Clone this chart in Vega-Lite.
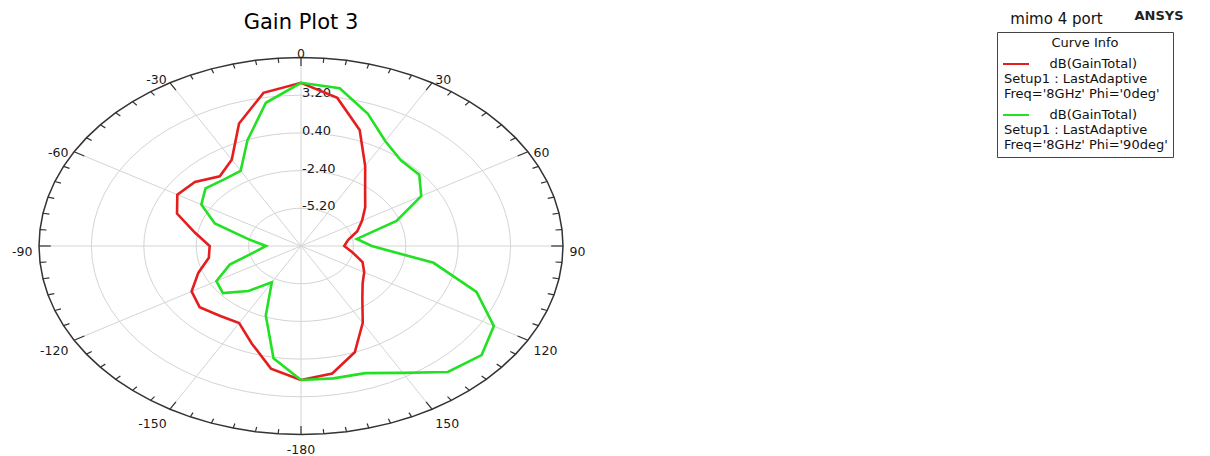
{
  "$schema": "https://vega.github.io/schema/vega-lite/v6.json",
  "width": 524,
  "height": 377,
  "autosize": "none",
  "padding": {"left": 39, "top": 57.5, "right": 647, "bottom": 21.5},
  "background": "white",
  "title": {
    "text": "Gain Plot 3",
    "anchor": "middle",
    "font": "DejaVu Sans",
    "fontSize": 21,
    "fontWeight": "normal",
    "color": "#000000",
    "baseline": "alphabetic",
    "offset": -40
  },
  "config": {"view": {"stroke": null}, "font": "DejaVu Sans"},
  "datasets": {
    "gain": [
      {"phi": "0deg", "theta": -180, "dB": 1.95},
      {"phi": "0deg", "theta": -170, "dB": 1.25},
      {"phi": "0deg", "theta": -160, "dB": -0.3},
      {"phi": "0deg", "theta": -150, "dB": -1.39},
      {"phi": "0deg", "theta": -140, "dB": -1.24},
      {"phi": "0deg", "theta": -130, "dB": -0.93},
      {"phi": "0deg", "theta": -120, "dB": -1.25},
      {"phi": "0deg", "theta": -110, "dB": -2.16},
      {"phi": "0deg", "theta": -100, "dB": -3.0},
      {"phi": "0deg", "theta": -90, "dB": -3.12},
      {"phi": "0deg", "theta": -80, "dB": -2.24},
      {"phi": "0deg", "theta": -70, "dB": -0.95},
      {"phi": "0deg", "theta": -60, "dB": -0.37},
      {"phi": "0deg", "theta": -50, "dB": -0.6},
      {"phi": "0deg", "theta": -40, "dB": -1.25},
      {"phi": "0deg", "theta": -30, "dB": -0.6},
      {"phi": "0deg", "theta": -20, "dB": 1.68},
      {"phi": "0deg", "theta": -10, "dB": 3.55},
      {"phi": "0deg", "theta": 0, "dB": 4.12},
      {"phi": "0deg", "theta": 10, "dB": 3.17},
      {"phi": "0deg", "theta": 20, "dB": 1.17},
      {"phi": "0deg", "theta": 30, "dB": -1.14},
      {"phi": "0deg", "theta": 40, "dB": -2.67},
      {"phi": "0deg", "theta": 50, "dB": -3.52},
      {"phi": "0deg", "theta": 60, "dB": -4.23},
      {"phi": "0deg", "theta": 70, "dB": -4.8},
      {"phi": "0deg", "theta": 80, "dB": -5.45},
      {"phi": "0deg", "theta": 90, "dB": -5.69},
      {"phi": "0deg", "theta": 100, "dB": -5.2},
      {"phi": "0deg", "theta": 110, "dB": -4.5},
      {"phi": "0deg", "theta": 120, "dB": -4.1},
      {"phi": "0deg", "theta": 130, "dB": -3.7},
      {"phi": "0deg", "theta": 140, "dB": -2.9},
      {"phi": "0deg", "theta": 150, "dB": -1.4},
      {"phi": "0deg", "theta": 160, "dB": 0.4},
      {"phi": "0deg", "theta": 170, "dB": 1.62},
      {"phi": "0deg", "theta": 180, "dB": 1.95},
      {"phi": "90deg", "theta": -180, "dB": 1.95},
      {"phi": "90deg", "theta": -170, "dB": 0.46},
      {"phi": "90deg", "theta": -160, "dB": -2.5},
      {"phi": "90deg", "theta": -150, "dB": -4.88},
      {"phi": "90deg", "theta": -140, "dB": -3.64},
      {"phi": "90deg", "theta": -130, "dB": -2.55},
      {"phi": "90deg", "theta": -120, "dB": -2.78},
      {"phi": "90deg", "theta": -110, "dB": -3.95},
      {"phi": "90deg", "theta": -100, "dB": -5.5},
      {"phi": "90deg", "theta": -90, "dB": -6.13},
      {"phi": "90deg", "theta": -80, "dB": -5.17},
      {"phi": "90deg", "theta": -70, "dB": -3.1},
      {"phi": "90deg", "theta": -60, "dB": -1.85},
      {"phi": "90deg", "theta": -50, "dB": -1.34},
      {"phi": "90deg", "theta": -40, "dB": -1.57},
      {"phi": "90deg", "theta": -30, "dB": -1.55},
      {"phi": "90deg", "theta": -20, "dB": 0.36},
      {"phi": "90deg", "theta": -10, "dB": 2.8},
      {"phi": "90deg", "theta": 0, "dB": 4.12},
      {"phi": "90deg", "theta": 10, "dB": 3.9},
      {"phi": "90deg", "theta": 20, "dB": 2.45},
      {"phi": "90deg", "theta": 30, "dB": 1.0},
      {"phi": "90deg", "theta": 40, "dB": 0.3},
      {"phi": "90deg", "theta": 50, "dB": 0.25},
      {"phi": "90deg", "theta": 60, "dB": -0.58},
      {"phi": "90deg", "theta": 70, "dB": -2.57},
      {"phi": "90deg", "theta": 80, "dB": -4.97},
      {"phi": "90deg", "theta": 90, "dB": -4.22},
      {"phi": "90deg", "theta": 100, "dB": -0.81},
      {"phi": "90deg", "theta": 110, "dB": 1.98},
      {"phi": "90deg", "theta": 120, "dB": 3.9},
      {"phi": "90deg", "theta": 130, "dB": 4.6},
      {"phi": "90deg", "theta": 140, "dB": 4.21},
      {"phi": "90deg", "theta": 150, "dB": 2.88},
      {"phi": "90deg", "theta": 160, "dB": 2.05},
      {"phi": "90deg", "theta": 170, "dB": 1.98},
      {"phi": "90deg", "theta": 180, "dB": 1.95}
    ],
    "grid": [
      {
        "levels": [-5.2, -2.4, 0.4, 3.2, 6.0],
        "angles": [-180, -175, -170, -165, -160, -155, -150, -145, -140, -135, -130, -125, -120, -115, -110, -105, -100, -95, -90, -85, -80, -75, -70, -65, -60, -55, -50, -45, -40, -35, -30, -25, -20, -15, -10, -5, 0, 5, 10, 15, 20, 25, 30, 35, 40, 45, 50, 55, 60, 65, 70, 75, 80, 85, 90, 95, 100, 105, 110, 115, 120, 125, 130, 135, 140, 145, 150, 155, 160, 165, 170, 175, 180]
      }
    ],
    "ticks": [
      {
        "a": [-180, -175, -170, -165, -160, -155, -150, -145, -140, -135, -130, -125, -120, -115, -110, -105, -100, -95, -90, -85, -80, -75, -70, -65, -60, -55, -50, -45, -40, -35, -30, -25, -20, -15, -10, -5, 0, 5, 10, 15, 20, 25, 30, 35, 40, 45, 50, 55, 60, 65, 70, 75, 80, 85, 90, 95, 100, 105, 110, 115, 120, 125, 130, 135, 140, 145, 150, 155, 160, 165, 170, 175]
      }
    ]
  },
  "layer": [
    {
      "data": {"name": "grid"},
      "transform": [
        {"flatten": ["levels"], "as": ["level"]},
        {"flatten": ["angles"], "as": ["angle"]},
        {"filter": "datum.level < 6"},
        {"calculate": "(datum.level + 8) / 14", "as": "rn"},
        {"calculate": "datum.rn * sin(datum.angle * PI / 180)", "as": "gx"},
        {"calculate": "datum.rn * cos(datum.angle * PI / 180)", "as": "gy"}
      ],
      "mark": {"type": "line", "color": "#d4d4d4", "strokeWidth": 1},
      "encoding": {
        "x": {"field": "gx", "type": "quantitative", "scale": {"domain": [-1, 1], "nice": false, "zero": false}, "axis": null},
        "y": {"field": "gy", "type": "quantitative", "scale": {"domain": [-1, 1], "nice": false, "zero": false}, "axis": null},
        "detail": {"field": "level", "type": "nominal"},
        "order": {"field": "angle", "type": "quantitative"}
      }
    },
    {
      "data": {"name": "ticks"},
      "transform": [
        {"flatten": ["a"]},
        {"filter": "datum.a % 30 == 0"},
        {"calculate": "0", "as": "o"},
        {"calculate": "sin(datum.a * PI / 180)", "as": "sx"},
        {"calculate": "cos(datum.a * PI / 180)", "as": "sy"}
      ],
      "mark": {"type": "rule", "color": "#d4d4d4", "strokeWidth": 1},
      "encoding": {
        "x": {"field": "o", "type": "quantitative"},
        "y": {"field": "o", "type": "quantitative"},
        "x2": {"field": "sx"},
        "y2": {"field": "sy"}
      }
    },
    {
      "data": {"name": "grid"},
      "transform": [
        {"flatten": ["levels"], "as": ["level"]},
        {"flatten": ["angles"], "as": ["angle"]},
        {"filter": "datum.level == 6"},
        {"calculate": "(datum.level + 8) / 14", "as": "rn"},
        {"calculate": "datum.rn * sin(datum.angle * PI / 180)", "as": "gx"},
        {"calculate": "datum.rn * cos(datum.angle * PI / 180)", "as": "gy"}
      ],
      "mark": {"type": "line", "color": "#333333", "strokeWidth": 1.5},
      "encoding": {
        "x": {"field": "gx", "type": "quantitative"},
        "y": {"field": "gy", "type": "quantitative"},
        "order": {"field": "angle", "type": "quantitative"}
      }
    },
    {
      "data": {"name": "ticks"},
      "transform": [
        {"flatten": ["a"]},
        {"calculate": "sin(datum.a * PI / 180)", "as": "sx"},
        {"calculate": "cos(datum.a * PI / 180)", "as": "sy"},
        {"calculate": "datum.a % 30 == 0 ? 0.955 : 0.975", "as": "k"},
        {"calculate": "datum.k * datum.sx", "as": "ix"},
        {"calculate": "datum.k * datum.sy", "as": "iy"}
      ],
      "mark": {"type": "rule", "color": "#333333", "strokeWidth": 1.2},
      "encoding": {
        "x": {"field": "sx", "type": "quantitative"},
        "y": {"field": "sy", "type": "quantitative"},
        "x2": {"field": "ix"},
        "y2": {"field": "iy"}
      }
    },
    {
      "data": {"name": "grid"},
      "transform": [
        {"flatten": ["levels"], "as": ["level"]},
        {"filter": "datum.level < 6"},
        {"calculate": "0", "as": "o"},
        {"calculate": "(datum.level + 8) / 14", "as": "rn"},
        {"calculate": "replace(format(datum.level, '.2f'), '\u2212', '-')", "as": "lab"}
      ],
      "mark": {"type": "text", "align": "left", "baseline": "middle", "dx": 1, "dy": -2, "font": "DejaVu Sans", "fontSize": 13, "color": "#1a1a1a"},
      "encoding": {
        "x": {"field": "o", "type": "quantitative"},
        "y": {"field": "rn", "type": "quantitative"},
        "text": {"field": "lab", "type": "nominal"}
      }
    },
    {
      "data": {"name": "ticks"},
      "transform": [
        {"flatten": ["a"]},
        {"filter": "datum.a % 30 == 0 && datum.a > 0"},
        {"calculate": "1.025 * sin(datum.a * PI / 180)", "as": "lx"},
        {"calculate": "1.052 * cos(datum.a * PI / 180)", "as": "ly"},
        {"calculate": "'' + datum.a", "as": "lab"}
      ],
      "mark": {"type": "text", "align": "left", "baseline": "top", "font": "DejaVu Sans", "fontSize": 12.5, "color": "#1a1a1a"},
      "encoding": {
        "x": {"field": "lx", "type": "quantitative"},
        "y": {"field": "ly", "type": "quantitative"},
        "text": {"field": "lab", "type": "nominal"}
      }
    },
    {
      "data": {"name": "ticks"},
      "transform": [
        {"flatten": ["a"]},
        {"filter": "datum.a % 30 == 0 && datum.a < 0 && datum.a > -180"},
        {"calculate": "1.025 * sin(datum.a * PI / 180)", "as": "lx"},
        {"calculate": "1.052 * cos(datum.a * PI / 180)", "as": "ly"},
        {"calculate": "'' + datum.a", "as": "lab"}
      ],
      "mark": {"type": "text", "align": "right", "baseline": "top", "font": "DejaVu Sans", "fontSize": 12.5, "color": "#1a1a1a"},
      "encoding": {
        "x": {"field": "lx", "type": "quantitative"},
        "y": {"field": "ly", "type": "quantitative"},
        "text": {"field": "lab", "type": "nominal"}
      }
    },
    {
      "data": {"name": "ticks"},
      "transform": [
        {"flatten": ["a"]},
        {"filter": "datum.a == 0 || datum.a == -180"},
        {"calculate": "1.025 * sin(datum.a * PI / 180)", "as": "lx"},
        {"calculate": "1.052 * cos(datum.a * PI / 180)", "as": "ly"},
        {"calculate": "'' + datum.a", "as": "lab"}
      ],
      "mark": {"type": "text", "align": "center", "baseline": "top", "font": "DejaVu Sans", "fontSize": 12.5, "color": "#1a1a1a"},
      "encoding": {
        "x": {"field": "lx", "type": "quantitative"},
        "y": {"field": "ly", "type": "quantitative"},
        "text": {"field": "lab", "type": "nominal"}
      }
    },
    {
      "data": {"name": "gain"},
      "transform": [
        {"calculate": "(datum.dB + 8) / 14", "as": "rn"},
        {"calculate": "datum.rn * sin(datum.theta * PI / 180)", "as": "cx"},
        {"calculate": "datum.rn * cos(datum.theta * PI / 180)", "as": "cy"}
      ],
      "mark": {"type": "line", "strokeWidth": 2.6},
      "encoding": {
        "x": {"field": "cx", "type": "quantitative"},
        "y": {"field": "cy", "type": "quantitative"},
        "order": {"field": "theta", "type": "quantitative"},
        "color": {
          "field": "phi",
          "type": "nominal",
          "scale": {"domain": ["0deg", "90deg"], "range": ["#e41e1e", "#22e022"]},
          "legend": {
            "orient": "none",
            "legendX": 958,
            "legendY": -25.5,
            "title": "Curve Info",
            "titleAnchor": "middle",
            "titleFont": "DejaVu Sans",
            "titleFontSize": 13,
            "titleFontWeight": "normal",
            "titleColor": "#111111",
            "titlePadding": 0,
            "fillColor": "white",
            "strokeColor": "#444444",
            "padding": 5,
            "symbolType": "stroke",
            "symbolSize": 676,
            "symbolStrokeWidth": 2,
            "labelFont": "DejaVu Sans",
            "labelFontSize": 13,
            "labelColor": "#111111",
            "labelOffset": -26,
            "labelLimit": 400,
            "rowPadding": 0,
            "labelExpr": "['\u200b\u00a0\u00a0\u00a0\u00a0\u00a0\u00a0\u00a0\u00a0\u00a0\u00a0\u00a0dB(GainTotal)', 'Setup1 : LastAdaptive', \"Freq='8GHz' Phi='\" + datum.label + \"'\"]"
          }
        }
      }
    },
    {
      "data": {"values": [{"note": "mimo 4 port", "nx": 2.8836, "ny": 1.2042}]},
      "mark": {"type": "text", "align": "center", "baseline": "middle", "font": "DejaVu Sans", "fontSize": 15, "color": "#111111"},
      "encoding": {
        "x": {"field": "nx", "type": "quantitative"},
        "y": {"field": "ny", "type": "quantitative"},
        "text": {"field": "note", "type": "nominal"}
      }
    },
    {
      "data": {"values": [{"note": "ANSYS", "nx": 3.2748, "ny": 1.2228}]},
      "mark": {"type": "text", "align": "center", "baseline": "middle", "font": "DejaVu Sans", "fontSize": 13, "fontWeight": "bold", "color": "#222222"},
      "encoding": {
        "x": {"field": "nx", "type": "quantitative"},
        "y": {"field": "ny", "type": "quantitative"},
        "text": {"field": "note", "type": "nominal"}
      }
    }
  ]
}
